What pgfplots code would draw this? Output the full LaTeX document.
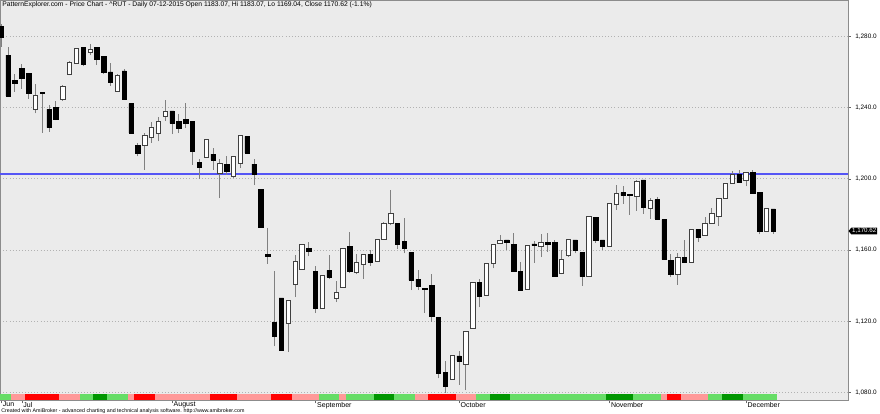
\documentclass[border=0pt]{standalone}
\usepackage{fontspec}
\setmainfont{Liberation Sans}
\usepackage{pgfplots}
\pgfplotsset{compat=1.18}
\usepackage{pgfplotstable}
\usetikzlibrary{shapes.symbols}

\definecolor{bandLG}{RGB}{102,221,102}
\definecolor{bandDG}{RGB}{0,150,0}
\definecolor{bandRD}{RGB}{255,0,0}
\definecolor{bandPK}{RGB}{255,153,153}
\definecolor{plotbg}{RGB}{235,235,235}
\definecolor{resline}{RGB}{85,85,245}

\pgfplotstableread{
i O H L C
0 1285.5 1287.0 1274.0 1279.6
1 1269.3 1274.0 1246.0 1246.3
2 1255.3 1259.0 1248.7 1253.8
3 1261.8 1264.3 1250.6 1256.2
4 1259.0 1259.0 1245.0 1248.2
5 1238.8 1253.0 1236.6 1246.9
6 1248.2 1248.6 1225.7 1248.0
7 1239.0 1241.2 1226.3 1228.7
8 1240.0 1243.5 1232.8 1233.6
9 1244.4 1252.8 1243.7 1251.9
10 1258.5 1266.0 1258.0 1265.4
11 1265.0 1273.6 1265.0 1273.1
12 1273.6 1274.0 1263.0 1264.3
13 1270.8 1275.5 1269.3 1272.7
14 1273.6 1273.8 1263.7 1266.9
15 1268.8 1268.8 1258.7 1260.0
16 1260.0 1265.0 1251.9 1254.3
17 1249.1 1258.7 1248.7 1258.1
18 1260.5 1261.3 1244.4 1244.4
19 1242.2 1242.2 1225.7 1225.7
20 1218.8 1220.0 1212.5 1214.4
21 1218.8 1225.4 1205.0 1224.1
22 1223.5 1231.6 1220.3 1229.1
23 1225.6 1234.8 1220.9 1232.0
24 1234.8 1244.1 1232.5 1238.1
25 1238.1 1238.1 1225.0 1231.1
26 1232.0 1236.3 1225.6 1228.4
27 1233.1 1242.4 1228.4 1231.2
28 1232.0 1232.0 1207.8 1215.3
29 1209.1 1211.0 1199.7 1206.4
30 1211.9 1222.2 1211.9 1222.2
31 1213.8 1217.5 1205.0 1210.6
32 1202.9 1211.0 1189.1 1208.5
33 1208.2 1212.9 1202.2 1203.9
34 1201.6 1212.3 1200.3 1212.3
35 1208.5 1224.6 1205.9 1224.6
36 1223.7 1223.7 1214.3 1214.3
37 1208.2 1211.0 1196.4 1202.6
38 1193.8 1193.8 1172.5 1172.5
39 1157.5 1172.5 1152.2 1156.4
40 1119.5 1148.1 1105.8 1111.4
41 1133.1 1133.1 1103.9 1103.9
42 1118.9 1132.0 1102.6 1132.0
43 1140.6 1157.3 1133.5 1153.6
44 1149.4 1162.9 1149.4 1162.9
45 1160.9 1164.4 1156.4 1159.2
46 1148.1 1150.9 1124.5 1127.5
47 1127.5 1145.7 1127.5 1145.7
48 1148.5 1157.3 1143.8 1144.8
49 1132.6 1142.3 1130.7 1136.0
50 1138.8 1161.2 1138.8 1161.2
51 1162.2 1170.0 1147.0 1148.1
52 1147.6 1157.9 1146.3 1152.8
53 1152.2 1157.3 1143.8 1157.3
54 1157.5 1159.7 1150.9 1153.2
55 1153.6 1165.7 1153.6 1165.7
56 1165.7 1175.7 1165.7 1175.1
57 1175.1 1193.4 1173.8 1180.3
58 1175.1 1175.1 1160.3 1163.1
59 1165.0 1177.8 1158.1 1160.9
60 1158.5 1158.5 1137.5 1143.0
61 1143.5 1148.8 1137.5 1139.8
62 1138.0 1138.3 1124.8 1137.8
63 1140.3 1146.5 1119.7 1122.5
64 1122.2 1122.2 1087.9 1090.7
65 1091.1 1097.6 1079.9 1083.6
66 1087.3 1101.0 1087.3 1101.0
67 1100.6 1103.3 1084.2 1097.6
68 1095.8 1114.1 1081.3 1114.1
69 1116.0 1141.8 1116.0 1141.6
70 1141.6 1143.5 1127.8 1133.8
71 1134.7 1152.5 1134.7 1152.5
72 1152.5 1163.2 1149.7 1163.2
73 1163.7 1168.4 1163.3 1165.2
74 1165.6 1165.6 1160.0 1164.5
75 1163.2 1169.4 1147.8 1147.8
76 1147.8 1153.4 1137.2 1137.2
77 1137.9 1162.8 1137.9 1162.8
78 1163.4 1165.2 1152.9 1162.4
79 1162.2 1168.8 1155.9 1164.3
80 1164.3 1169.7 1159.1 1163.4
81 1164.1 1165.6 1145.0 1145.0
82 1146.9 1160.0 1146.3 1154.8
83 1156.8 1166.0 1156.3 1166.0
84 1165.6 1165.6 1158.1 1159.6
85 1158.5 1158.5 1139.8 1145.0
86 1145.4 1178.7 1145.4 1178.7
87 1178.4 1178.4 1164.1 1165.2
88 1165.6 1165.6 1160.0 1161.9
89 1161.9 1186.2 1161.9 1186.2
90 1185.8 1196.5 1182.5 1191.8
91 1192.2 1196.0 1185.8 1190.5
92 1191.2 1191.5 1179.7 1190.6
93 1190.3 1199.0 1182.1 1198.5
94 1199.4 1199.4 1180.3 1184.1
95 1183.1 1189.3 1177.5 1187.8
96 1188.2 1189.7 1177.5 1177.5
97 1177.0 1177.0 1154.5 1154.5
98 1154.1 1157.9 1144.8 1146.3
99 1146.3 1158.2 1140.6 1156.0
100 1156.0 1165.7 1153.2 1153.2
101 1152.8 1171.5 1152.8 1171.5
102 1171.5 1171.5 1164.4 1166.9
103 1168.2 1178.5 1168.2 1175.1
104 1174.7 1183.5 1174.7 1180.3
105 1179.0 1188.8 1173.4 1188.8
106 1188.8 1197.6 1188.8 1197.6
107 1197.6 1204.1 1197.6 1202.2
108 1202.4 1204.7 1197.8 1197.8
109 1199.1 1203.7 1195.7 1203.7
110 1203.7 1204.7 1191.6 1191.6
111 1192.5 1192.5 1168.7 1170.4
112 1170.4 1183.1 1170.4 1183.1
113 1183.07 1183.07 1169.04 1170.62
}\ohlc

\pgfplotsset{candlebase/.style={scale only axis, width=847pt, height=400pt,
  xmin=-0.15, xmax=123.9, ymin=1075.5, ymax=1300.2}}

\newcommand{\bandseg}[3]{\addplot[fill=#3, draw=none] coordinates {(#1,1079.4) (#2,1079.4)} \closedcycle;}

\begin{document}
\begin{tikzpicture}
\begin{axis}[candlebase, clip mode=individual,
  axis background/.style={fill=plotbg},
  axis line style={black!45},
  tick align=outside, major tick length=3pt,
  tick style={black!60},
  xtick pos=left, ytick pos=right, yticklabel pos=right,
  xtick={0,3,25,46,67,89,109},
  xticklabels={Jun,Jul,August,September,October,November,December},
  ytick={1080,1120,...,1280},
  ymajorgrids, grid style={black!30, dash pattern=on 0.6pt off 2.5pt},
  x tick label style={anchor=north west, xshift=0.5pt, yshift=2.5pt, inner sep=1pt, font=\fontsize{7}{7.5}\selectfont},
  y tick label style={font=\fontsize{6.4}{7}\selectfont, xshift=1pt},
  yticklabel style={/pgf/number format/.cd, fixed, fixed zerofill, precision=1, 1000 sep={,}, assume math mode=true},
]
\bandseg{-0.5}{1.5}{bandLG}
\bandseg{1.5}{3.5}{bandPK}
\bandseg{3.5}{8.5}{bandRD}
\bandseg{8.5}{11.5}{bandPK}
\bandseg{11.5}{13.5}{bandLG}
\bandseg{13.5}{15.5}{bandDG}
\bandseg{15.5}{18.5}{bandLG}
\bandseg{18.5}{19.5}{bandPK}
\bandseg{19.5}{22.5}{bandRD}
\bandseg{22.5}{30.5}{bandPK}
\bandseg{30.5}{34.5}{bandRD}
\bandseg{34.5}{39.5}{bandPK}
\bandseg{39.5}{42.5}{bandRD}
\bandseg{42.5}{46.5}{bandPK}
\bandseg{46.5}{49.5}{bandLG}
\bandseg{49.5}{50.5}{bandPK}
\bandseg{50.5}{54.5}{bandLG}
\bandseg{54.5}{57.5}{bandDG}
\bandseg{57.5}{60.5}{bandLG}
\bandseg{60.5}{62.5}{bandPK}
\bandseg{62.5}{66.5}{bandRD}
\bandseg{66.5}{69.5}{bandPK}
\bandseg{69.5}{71.5}{bandLG}
\bandseg{71.5}{74.5}{bandDG}
\bandseg{74.5}{88.5}{bandLG}
\bandseg{88.5}{92.5}{bandDG}
\bandseg{92.5}{96.5}{bandLG}
\bandseg{96.5}{97.5}{bandPK}
\bandseg{97.5}{99.5}{bandRD}
\bandseg{99.5}{103.5}{bandPK}
\bandseg{103.5}{105.5}{bandLG}
\bandseg{105.5}{108.5}{bandDG}
\bandseg{108.5}{113.5}{bandLG}
% resistance line (drawn as a thin filled strip)
\addplot[fill=resline, draw=resline, line width=0.3pt, mark=none] coordinates {(-0.15,1202.6) (123.9,1202.6) (123.9,1203.3) (-0.15,1203.3)} -- cycle;
% wicks
\addplot[draw=none, mark=none, error bars/.cd, y dir=plus, y explicit, error mark=none,
  error bar style={draw=black!50, line width=0.8pt}]
  table[x=i, y=L, y error expr=\thisrow{H}-\thisrow{L}] {\ohlc};
% title and texts
\node[anchor=north west, inner sep=0pt, font=\fontsize{6.75}{7.5}\selectfont] at (rel axis cs:0,1) [xshift=2pt, yshift=-1.2pt]
  {PatternExplorer.com - Price Chart - \textasciicircum RUT - Daily 07-12-2015 Open 1183.07, Hi 1183.07, Lo 1169.04, Close 1170.62 (-1.1\%)};
\node[anchor=north west, inner sep=0pt, font=\fontsize{5.3}{6}\selectfont] at (rel axis cs:0,0) [xshift=1pt, yshift=-8pt]
  {Created with AmiBroker - advanced charting and technical analysis software. http://www.amibroker.com};
\node[signal, signal to=west, signal pointer angle=100, fill=black, text=white, inner sep=0.8pt,
  font=\fontsize{6.2}{6.5}\selectfont, anchor=west] at (axis cs:123.9,1170.62) [xshift=0.5pt] {1,170.62};
\end{axis}
\begin{axis}[candlebase, hide axis, ybar stacked, bar width=4.4pt]
\addplot[draw=none, fill=none] table[x=i, y expr={min(\thisrow{O},\thisrow{C})}] {\ohlc};
\addplot[fill=black, draw=black, line width=0.5pt] table[x=i, y expr={ifthenelse(\thisrow{C}<\thisrow{O}, max(\thisrow{O}-\thisrow{C},0.6), 0)}] {\ohlc};
\addplot[fill=white, draw=black!75, line width=0.6pt] table[x=i, y expr={ifthenelse(\thisrow{C}<\thisrow{O}, 0, max(\thisrow{C}-\thisrow{O},0.6))}] {\ohlc};
\end{axis}
\end{tikzpicture}
\end{document}
